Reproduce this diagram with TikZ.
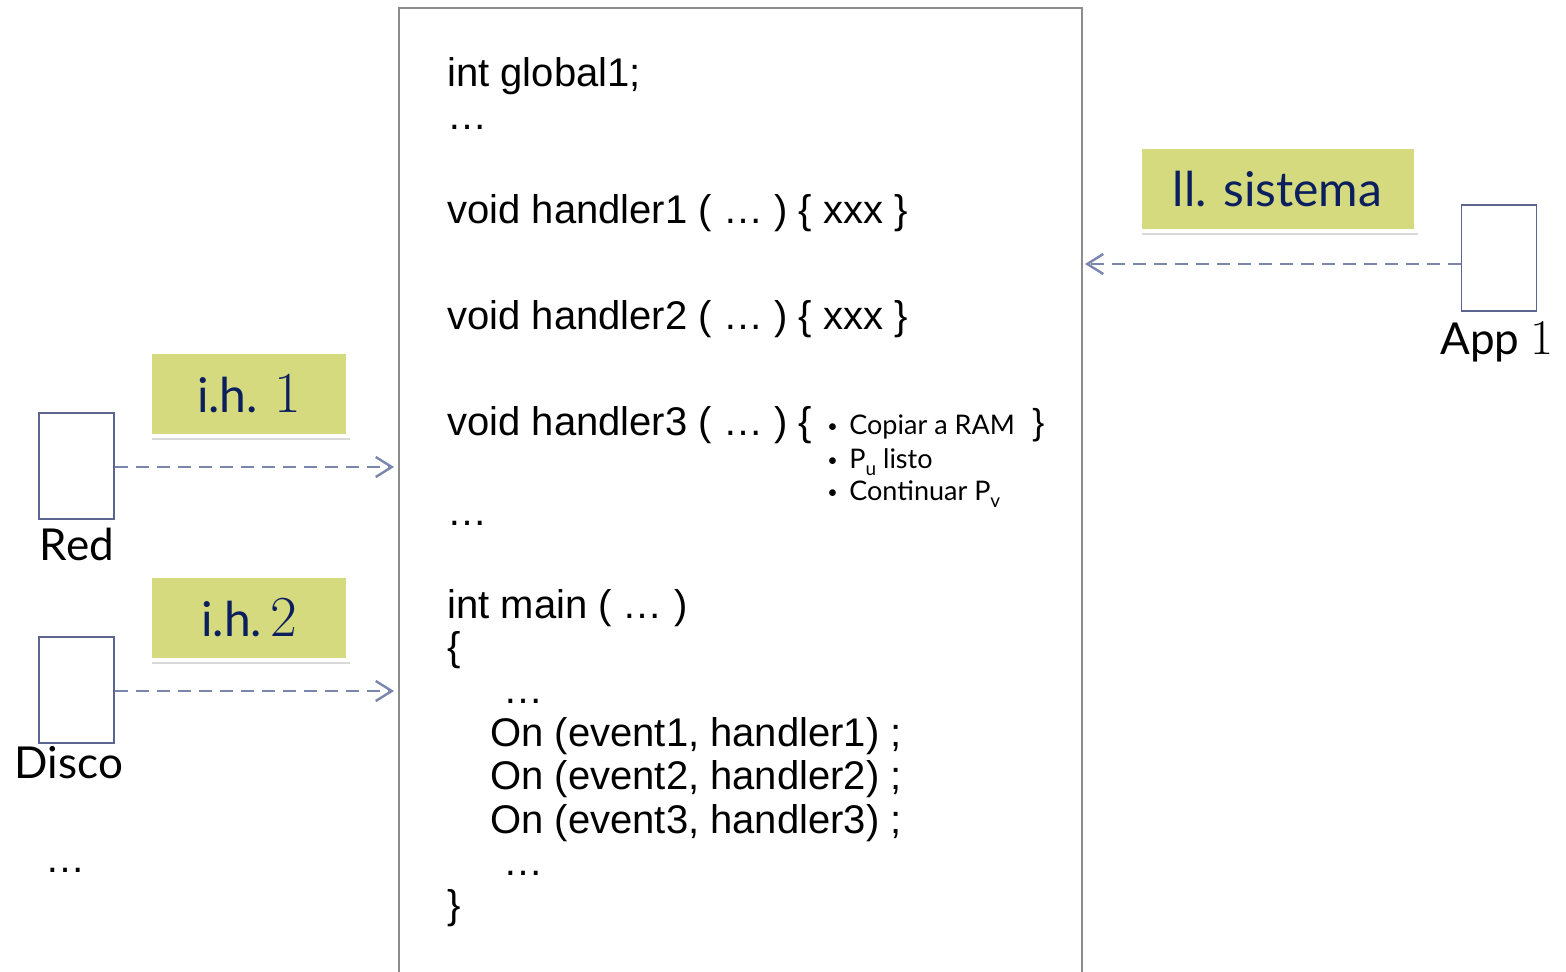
\documentclass[tikz,border=0pt]{standalone}
\usepackage{fontspec}
\setmainfont{Liberation Sans}
\newfontfamily\gillfont{Lato}
\newfontfamily\cmfont{Latin Modern Roman}
\usetikzlibrary{arrows.meta,positioning,shadows}

\definecolor{tagfill}{HTML}{D5DA7E}
\definecolor{tagtext}{HTML}{0B1F5E}
\definecolor{linkcol}{HTML}{7B86AD}
\definecolor{devline}{HTML}{5B6590}
\definecolor{boxline}{HTML}{8C8C8C}

\newcommand{\bigdigit}[1]{{\cmfont\fontsize{29}{30}\selectfont #1}}
\newcommand{\stepitem}{\makebox[11pt][l]{\raisebox{1pt}{\fontsize{9}{9}\selectfont\textbullet}}}
\newcommand{\lowsub}[1]{\raisebox{-3.5pt}{\fontsize{9.5}{10}\selectfont #1}}

\tikzset{
  codeline/.style={anchor=base west, inner sep=0pt, font=\fontsize{20}{24}\selectfont},
  stepline/.style={anchor=base west, inner sep=0pt, font=\gillfont\fontsize{13.5}{16}\selectfont},
  tag/.style={fill=tagfill, draw=white, line width=2pt,
    drop shadow={shadow xshift=1pt, shadow yshift=-2pt, opacity=0.3},
    text=tagtext, font=\gillfont\fontsize{24}{28}\selectfont,
    minimum width=99pt, minimum height=42pt, inner sep=0pt},
  device/.style={draw=devline, line width=0.8pt, minimum width=37.5pt,
    minimum height=53pt, inner sep=0pt},
  devname/.style={font=\gillfont\fontsize{22}{26}\selectfont, inner sep=0pt, anchor=base},
  flow/.style={draw=linkcol, line width=1.3pt, dash pattern=on 6.5pt off 4pt,
    -{Straight Barb[length=8pt,width=10pt,line width=1.2pt]}},
}

\begin{document}
\begin{tikzpicture}[x=0.5pt, y=-0.5pt]
\useasboundingbox (0,0) rectangle (1566,972);
\clip (0,0) rectangle (1566,972);

% program
\node[draw=boxline, line width=1pt, minimum width=341.5pt, minimum height=496pt, inner sep=0pt] (main) at (740.5,504) {};

\node[codeline] (l1) at (447,87) {int global1;};
\node[codeline] (l2) at (447,130) {\dots};
\node[codeline] (h1) at (447,224) {void handler1 ( \dots\ ) \{ xxx \}};
\node[codeline] (h2) at (447,330) {void handler2 ( \dots\ ) \{ xxx \}};
\node[codeline] (h3) at (447,436) {void handler3 ( \dots\ ) \{};
\node[codeline] (l3) at (447,525) {\dots};
\node[codeline] (m1) at (447,618) {int main ( \dots\ )};
\node[codeline] (m2) at (447,660) {\{};
\node[codeline] (m3) at (503,703) {\dots};
\node[codeline] (on1) at (490,746) {On (event1, handler1) ;};
\node[codeline] (on2) at (490,789) {On (event2, handler2) ;};
\node[codeline] (on3) at (490,833) {On (event3, handler3) ;};
\node[codeline] (m4) at (503,875) {\dots};
\node[codeline] (m5) at (447,918) {\}};

% handler 3 body
\node[stepline] (s1) at (827,434) {\stepitem Copiar a RAM};
\node[stepline] (s2) at (827,468) {\stepitem P\lowsub{u} listo};
\node[stepline] (s3) at (827,500) {\stepitem Continuar P\lowsub{v}};
\node[codeline, font=\fontsize{18}{20}\selectfont] (close3) at (1032,434) {\}};

% tags
\node[tag, minimum width=138pt] (sis) at (1277.5,189) {ll. sistema};
\node[tag] (ih1) at (249,394) {i.h. \bigdigit{1}};
\node[tag] (ih2) at (249,618) {i.h.\,\bigdigit{2}};

% devices
\node[device] (red) at (76.5,466) {};
\node[device] (disco) at (76.5,690) {};
\node[device] (app) at (1499,258) {};
\node[devname] (redname) at (77,560) {Red};
\node[devname] (disconame) at (69,778) {Disco};
\node[devname] (appname) at (1497,355) {App {\cmfont\fontsize{25}{28}\selectfont 1}};
\node[devname, font=\fontsize{20}{24}\selectfont] (more) at (65,872) {\dots};

\coordinate (redin) at (394,467);
\coordinate (discoin) at (394,691);
\coordinate (appin) at (1085,264);

\draw[flow] (red.east |- redin) -- (redin);
\draw[flow] (disco.east |- discoin) -- (discoin);
\draw[flow] (app.west |- appin) -- (appin);

\end{tikzpicture}
\end{document}
